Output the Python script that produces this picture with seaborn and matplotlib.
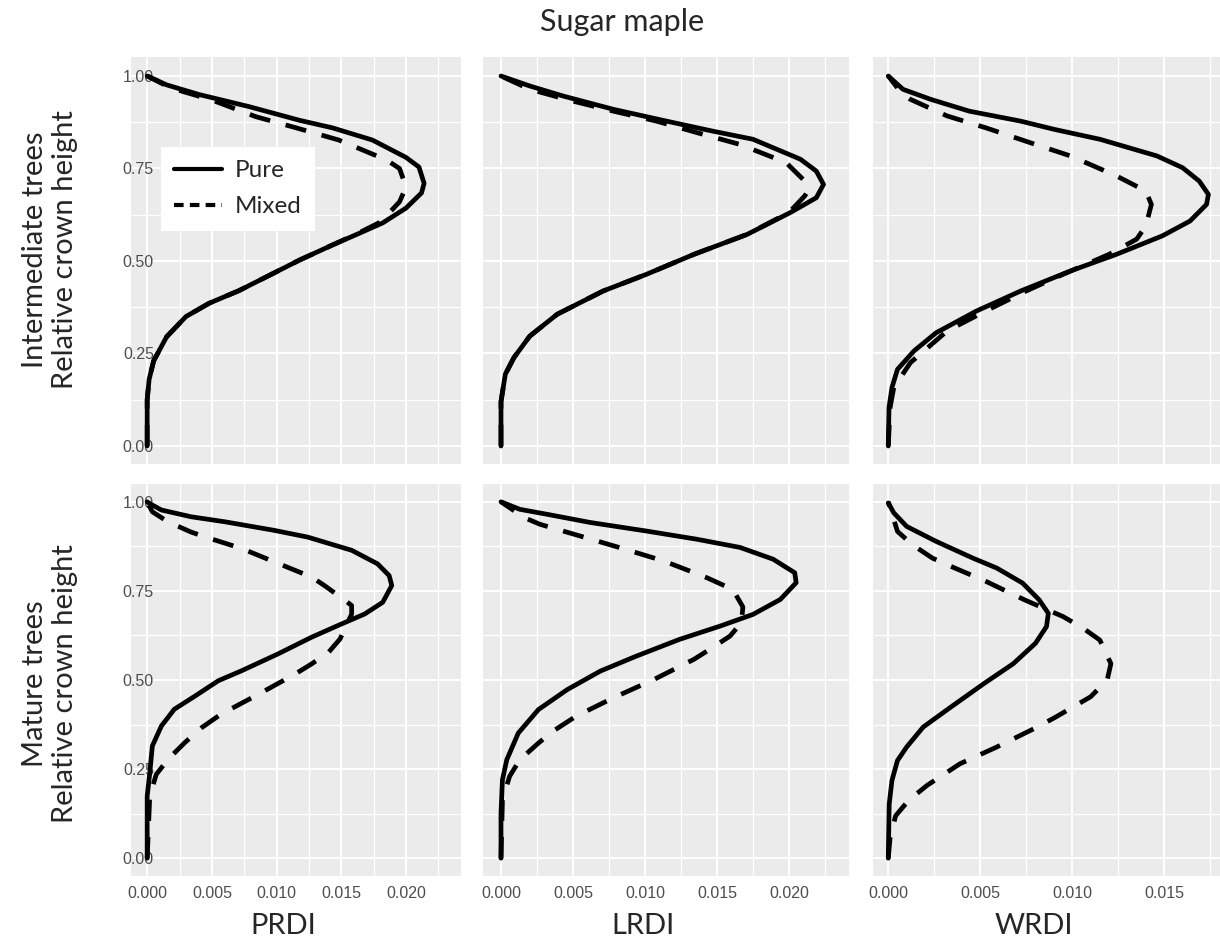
import numpy as np
import pandas as pd
import matplotlib
matplotlib.use("Agg")
import matplotlib.pyplot as plt
from matplotlib.ticker import MultipleLocator, FormatStrFormatter
from matplotlib.lines import Line2D
import seaborn as sns

# Profiles: relative crown height (h) and relative density index value (v)
# ---- Intermediate trees ----
prdi_inter_pure_h = [0, 0.125, 0.18, 0.23, 0.295, 0.35, 0.386, 0.42, 0.457, 0.503, 0.543, 0.575,
                     0.603, 0.643, 0.684, 0.71, 0.754, 0.78, 0.827, 0.86, 0.88, 0.917, 0.95, 0.976, 0.997, 1.0]
prdi_inter_pure_v = [0, 0, 0.00015, 0.0005, 0.0015, 0.0030, 0.0048, 0.0071, 0.0092, 0.0118, 0.0143, 0.0164,
                     0.0182, 0.0200, 0.0212, 0.0214, 0.0210, 0.0200, 0.0174, 0.0143, 0.0118, 0.0079, 0.0040, 0.0015, 0.0002, 0]
prdi_inter_mixed_h = [0, 0.125, 0.18, 0.23, 0.295, 0.35, 0.386, 0.42, 0.457, 0.503, 0.543, 0.575,
                      0.603, 0.63, 0.66, 0.70, 0.75, 0.773, 0.827, 0.86, 0.89, 0.935, 0.968, 1.0]
prdi_inter_mixed_v = [0, 0, 0.00015, 0.0005, 0.0015, 0.0030, 0.0048, 0.0071, 0.0092, 0.0118, 0.0143, 0.0163,
                      0.0179, 0.0187, 0.0195, 0.0200, 0.0195, 0.0185, 0.0148, 0.0115, 0.0084, 0.0050, 0.0018, 0]

lrdi_inter_pure_h = [0, 0.12, 0.194, 0.239, 0.297, 0.356, 0.419, 0.464, 0.518, 0.572, 0.631, 0.671,
                     0.707, 0.743, 0.775, 0.829, 0.851, 0.878, 0.91, 0.946, 0.973, 1.0]
lrdi_inter_pure_v = [0, 0, 0.0003, 0.0009, 0.0020, 0.0039, 0.0071, 0.0101, 0.0134, 0.0171, 0.0201, 0.0219,
                     0.0224, 0.0219, 0.0208, 0.0175, 0.0147, 0.0115, 0.0078, 0.0043, 0.0020, 0]
lrdi_inter_mixed_h = [0, 0.12, 0.194, 0.239, 0.297, 0.356, 0.419, 0.464, 0.518, 0.572, 0.631, 0.676,
                      0.689, 0.716, 0.766, 0.815, 0.847, 0.878, 0.905, 0.932, 0.964, 1.0]
lrdi_inter_mixed_v = [0, 0, 0.0003, 0.0009, 0.0020, 0.0039, 0.0071, 0.0101, 0.0134, 0.0171, 0.0200, 0.0211,
                      0.0213, 0.0211, 0.0198, 0.0166, 0.0136, 0.0108, 0.0078, 0.0050, 0.0020, 0]

wrdi_inter_pure_h = [0, 0.104, 0.158, 0.207, 0.257, 0.306, 0.365, 0.419, 0.473, 0.518, 0.568, 0.608,
                     0.653, 0.68, 0.716, 0.752, 0.784, 0.829, 0.856, 0.878, 0.905, 0.937, 0.964, 1.0]
wrdi_inter_pure_v = [0, 0.00004, 0.0002, 0.0005, 0.0014, 0.0026, 0.0048, 0.0072, 0.0099, 0.0124, 0.0149, 0.0164,
                     0.0173, 0.0174, 0.0169, 0.0160, 0.0146, 0.0115, 0.0090, 0.0072, 0.0044, 0.0023, 0.0008, 0]
wrdi_inter_mixed_h = [0, 0.104, 0.158, 0.225, 0.311, 0.365, 0.419, 0.464, 0.518, 0.559, 0.595, 0.653,
                      0.689, 0.73, 0.784, 0.82, 0.86, 0.892, 0.937, 0.955, 1.0]
wrdi_inter_mixed_v = [0, 0.0001, 0.0003, 0.0012, 0.0032, 0.0053, 0.0075, 0.0095, 0.0120, 0.0135, 0.0140, 0.0143,
                      0.0140, 0.0124, 0.0099, 0.0077, 0.0053, 0.0032, 0.0012, 0.0007, 0]

# ---- Mature trees ----
prdi_mature_pure_h = [0, 0.174, 0.239, 0.315, 0.371, 0.418, 0.455, 0.498, 0.526, 0.573, 0.62, 0.657, 0.685,
                      0.718, 0.765, 0.793, 0.826, 0.864, 0.901, 0.92, 0.944, 0.958, 0.977, 0.995, 1.0]
prdi_mature_pure_v = [0, 0, 0.0002, 0.0004, 0.0011, 0.0021, 0.0037, 0.0055, 0.0073, 0.0101, 0.0127, 0.0150, 0.0168,
                      0.0182, 0.0189, 0.0187, 0.0178, 0.0158, 0.0124, 0.0098, 0.0060, 0.0034, 0.0011, 0.0002, 0]
prdi_mature_mixed_h = [0, 0.174, 0.235, 0.277, 0.324, 0.366, 0.404, 0.46, 0.516, 0.545, 0.577, 0.615,
                       0.685, 0.709, 0.723, 0.765, 0.789, 0.82, 0.869, 0.899, 0.915, 0.944, 0.972, 1.0]
prdi_mature_mixed_v = [0, 0.0002, 0.0007, 0.0016, 0.0029, 0.0042, 0.0057, 0.0086, 0.0114, 0.0127, 0.0140, 0.0149,
                       0.0158, 0.0158, 0.0153, 0.0137, 0.0127, 0.0106, 0.0073, 0.0047, 0.0034, 0.0016, 0.0004, 0]

lrdi_mature_pure_h = [0, 0.127, 0.22, 0.276, 0.351, 0.417, 0.473, 0.525, 0.567, 0.614, 0.651, 0.684,
                      0.726, 0.773, 0.801, 0.839, 0.872, 0.895, 0.918, 0.942, 0.965, 0.979, 1.0]
lrdi_mature_pure_v = [0, 0, 0.0001, 0.0004, 0.0012, 0.0026, 0.0046, 0.0069, 0.0094, 0.0124, 0.0152, 0.0175,
                      0.0194, 0.0205, 0.0204, 0.0189, 0.0166, 0.0136, 0.0101, 0.0062, 0.0032, 0.0013, 0]
lrdi_mature_mixed_h = [0, 0.164, 0.23, 0.276, 0.323, 0.356, 0.398, 0.45, 0.501, 0.558, 0.586, 0.623,
                       0.661, 0.705, 0.754, 0.787, 0.806, 0.834, 0.872, 0.904, 0.937, 0.956, 1.0]
lrdi_mature_mixed_v = [0, 0.0001, 0.0006, 0.0013, 0.0026, 0.0036, 0.0052, 0.0078, 0.0106, 0.0134, 0.0145, 0.0159,
                       0.0167, 0.0168, 0.0161, 0.0143, 0.0131, 0.0113, 0.0082, 0.0055, 0.0027, 0.0016, 0]

wrdi_mature_pure_h = [0, 0.152, 0.218, 0.274, 0.312, 0.368, 0.424, 0.49, 0.546, 0.603, 0.65, 0.687,
                      0.725, 0.772, 0.814, 0.842, 0.889, 0.931, 0.969, 0.997]
wrdi_mature_pure_v = [0, 0.00005, 0.0002, 0.0005, 0.0010, 0.0019, 0.0034, 0.0052, 0.0068, 0.0080, 0.0086, 0.0087,
                      0.0082, 0.0073, 0.0059, 0.0046, 0.0026, 0.0010, 0.0003, 0]
wrdi_mature_mixed_h = [0, 0.058, 0.119, 0.162, 0.204, 0.265, 0.312, 0.368, 0.396, 0.429, 0.453, 0.50,
                       0.546, 0.612, 0.645, 0.678, 0.725, 0.777, 0.819, 0.842, 0.88, 0.917, 1.0]
wrdi_mature_mixed_v = [0, 0.0001, 0.0004, 0.0011, 0.0021, 0.0039, 0.0059, 0.0081, 0.0091, 0.0102, 0.0110, 0.0119,
                       0.0121, 0.0115, 0.0106, 0.0095, 0.0074, 0.0053, 0.0034, 0.0024, 0.0013, 0.0005, 0]

INDICES = ["PRDI", "LRDI", "WRDI"]
CLASSES = ["Intermediate trees", "Mature trees"]
STANDS = ["Pure", "Mixed"]

profiles = {
    ("Intermediate trees", "PRDI"): ((prdi_inter_pure_h, prdi_inter_pure_v), (prdi_inter_mixed_h, prdi_inter_mixed_v)),
    ("Intermediate trees", "LRDI"): ((lrdi_inter_pure_h, lrdi_inter_pure_v), (lrdi_inter_mixed_h, lrdi_inter_mixed_v)),
    ("Intermediate trees", "WRDI"): ((wrdi_inter_pure_h, wrdi_inter_pure_v), (wrdi_inter_mixed_h, wrdi_inter_mixed_v)),
    ("Mature trees", "PRDI"): ((prdi_mature_pure_h, prdi_mature_pure_v), (prdi_mature_mixed_h, prdi_mature_mixed_v)),
    ("Mature trees", "LRDI"): ((lrdi_mature_pure_h, lrdi_mature_pure_v), (lrdi_mature_mixed_h, lrdi_mature_mixed_v)),
    ("Mature trees", "WRDI"): ((wrdi_mature_pure_h, wrdi_mature_pure_v), (wrdi_mature_mixed_h, wrdi_mature_mixed_v)),
}

frames = []
for (cls, idx), pair in profiles.items():
    for stand, (hh, vv) in zip(STANDS, pair):
        frames.append(pd.DataFrame({"height": hh, "value": vv,
                                    "stand": stand, "index": idx, "class": cls}))
df = pd.concat(frames, ignore_index=True)

sns.set_theme(style="darkgrid", rc={
    "axes.facecolor": "#EBEBEB",
    "grid.color": "white",
    "axes.edgecolor": "none",
})
plt.rcParams["font.family"] = ["Lato", "DejaVu Sans"]

W, H = 1220, 939
fig = plt.figure(figsize=(W / 100, H / 100), dpi=100)
fig.patch.set_facecolor("white")

# Panel boxes in pixels
col_px = [(131, 461), (483, 849), (873, 1220)]
row_px = [(57.5, 464.5), (484, 876)]
xlims = [(-0.00125, 0.02425), (-0.00125, 0.02417), (-0.00083, 0.01803)]

tick_font = "Liberation Sans"

axes = {}
for r, cls in enumerate(CLASSES):
    y0, y1 = row_px[r]
    for c, idx in enumerate(INDICES):
        x0, x1 = col_px[c]
        ax = fig.add_axes([x0 / W, 1 - y1 / H, (x1 - x0) / W, (y1 - y0) / H])
        axes[(r, c)] = ax
        sub = df[(df["class"] == cls) & (df["index"] == idx)]
        sns.lineplot(data=sub, x="value", y="height", style="stand",
                     style_order=STANDS,
                     dashes={"Pure": "", "Mixed": (4.5, 3.4)},
                     color="black", linewidth=3.4, orient="y",
                     estimator=None, legend=False, ax=ax,
                     solid_joinstyle="round", dash_joinstyle="round",
                     solid_capstyle="round")
        ax.set_xlim(*xlims[c])
        ax.set_ylim(-0.05, 1.05)
        ax.xaxis.set_major_locator(MultipleLocator(0.005))
        ax.xaxis.set_minor_locator(MultipleLocator(0.0025))
        ax.yaxis.set_major_locator(MultipleLocator(0.25))
        ax.yaxis.set_minor_locator(MultipleLocator(0.125))
        ax.xaxis.set_major_formatter(FormatStrFormatter("%.3f"))
        ax.yaxis.set_major_formatter(FormatStrFormatter("%.2f"))
        ax.grid(which="major", color="white", linewidth=1.4)
        ax.grid(which="minor", color="white", linewidth=0.9)
        ax.set_xlabel("")
        ax.set_ylabel("")
        for s in ax.spines.values():
            s.set_visible(False)
        if r == 1:
            ax.tick_params(axis="x", which="major", length=3.5, width=1.1,
                           color="#333333", pad=3.5, labelsize=11.5,
                           labelcolor="#4D4D4D", labelfontfamily=tick_font)
        else:
            ax.tick_params(axis="x", which="both", length=0, labelbottom=False)
        ax.tick_params(axis="x", which="minor", length=0)
        if c == 0:
            ax.tick_params(axis="y", which="both", length=0, pad=-16.5,
                           labelsize=11.5, labelcolor="#4D4D4D",
                           labelfontfamily=tick_font)
        else:
            ax.tick_params(axis="y", which="both", length=0, labelleft=False)

# Legend inside the first panel
handles = [Line2D([], [], color="black", linewidth=3.0, linestyle="-"),
           Line2D([], [], color="black", linewidth=3.0, dashes=(2.3, 1.5))]
leg = axes[(0, 0)].legend(handles, STANDS, loc="upper left",
                          bbox_to_anchor=(161 / W, 1 - 147 / H),
                          bbox_transform=fig.transFigure, borderaxespad=0,
                          frameon=True, facecolor="white", edgecolor="none",
                          fancybox=False, framealpha=1, fontsize=17.5,
                          handlelength=1.95, handletextpad=0.55,
                          labelspacing=0.62, borderpad=0.55)
leg.get_frame().set_linewidth(0)

# Titles
fig.text(622 / W, 1 - 22 / H, "Sugar maple", ha="center", va="center", fontsize=22)
for cx, lab in zip([283, 643, 1034], INDICES):
    fig.text(cx / W, 1 - 934 / H, lab, ha="center", va="baseline", fontsize=21)
for cy, cls in zip([250, 684], CLASSES):
    fig.text(50 / W, 1 - cy / H, f"{cls}\nRelative crown height", rotation=90,
             ha="center", va="center", multialignment="center",
             fontsize=21, linespacing=1.2)

fig.savefig("out.png", dpi=100, facecolor="white")
